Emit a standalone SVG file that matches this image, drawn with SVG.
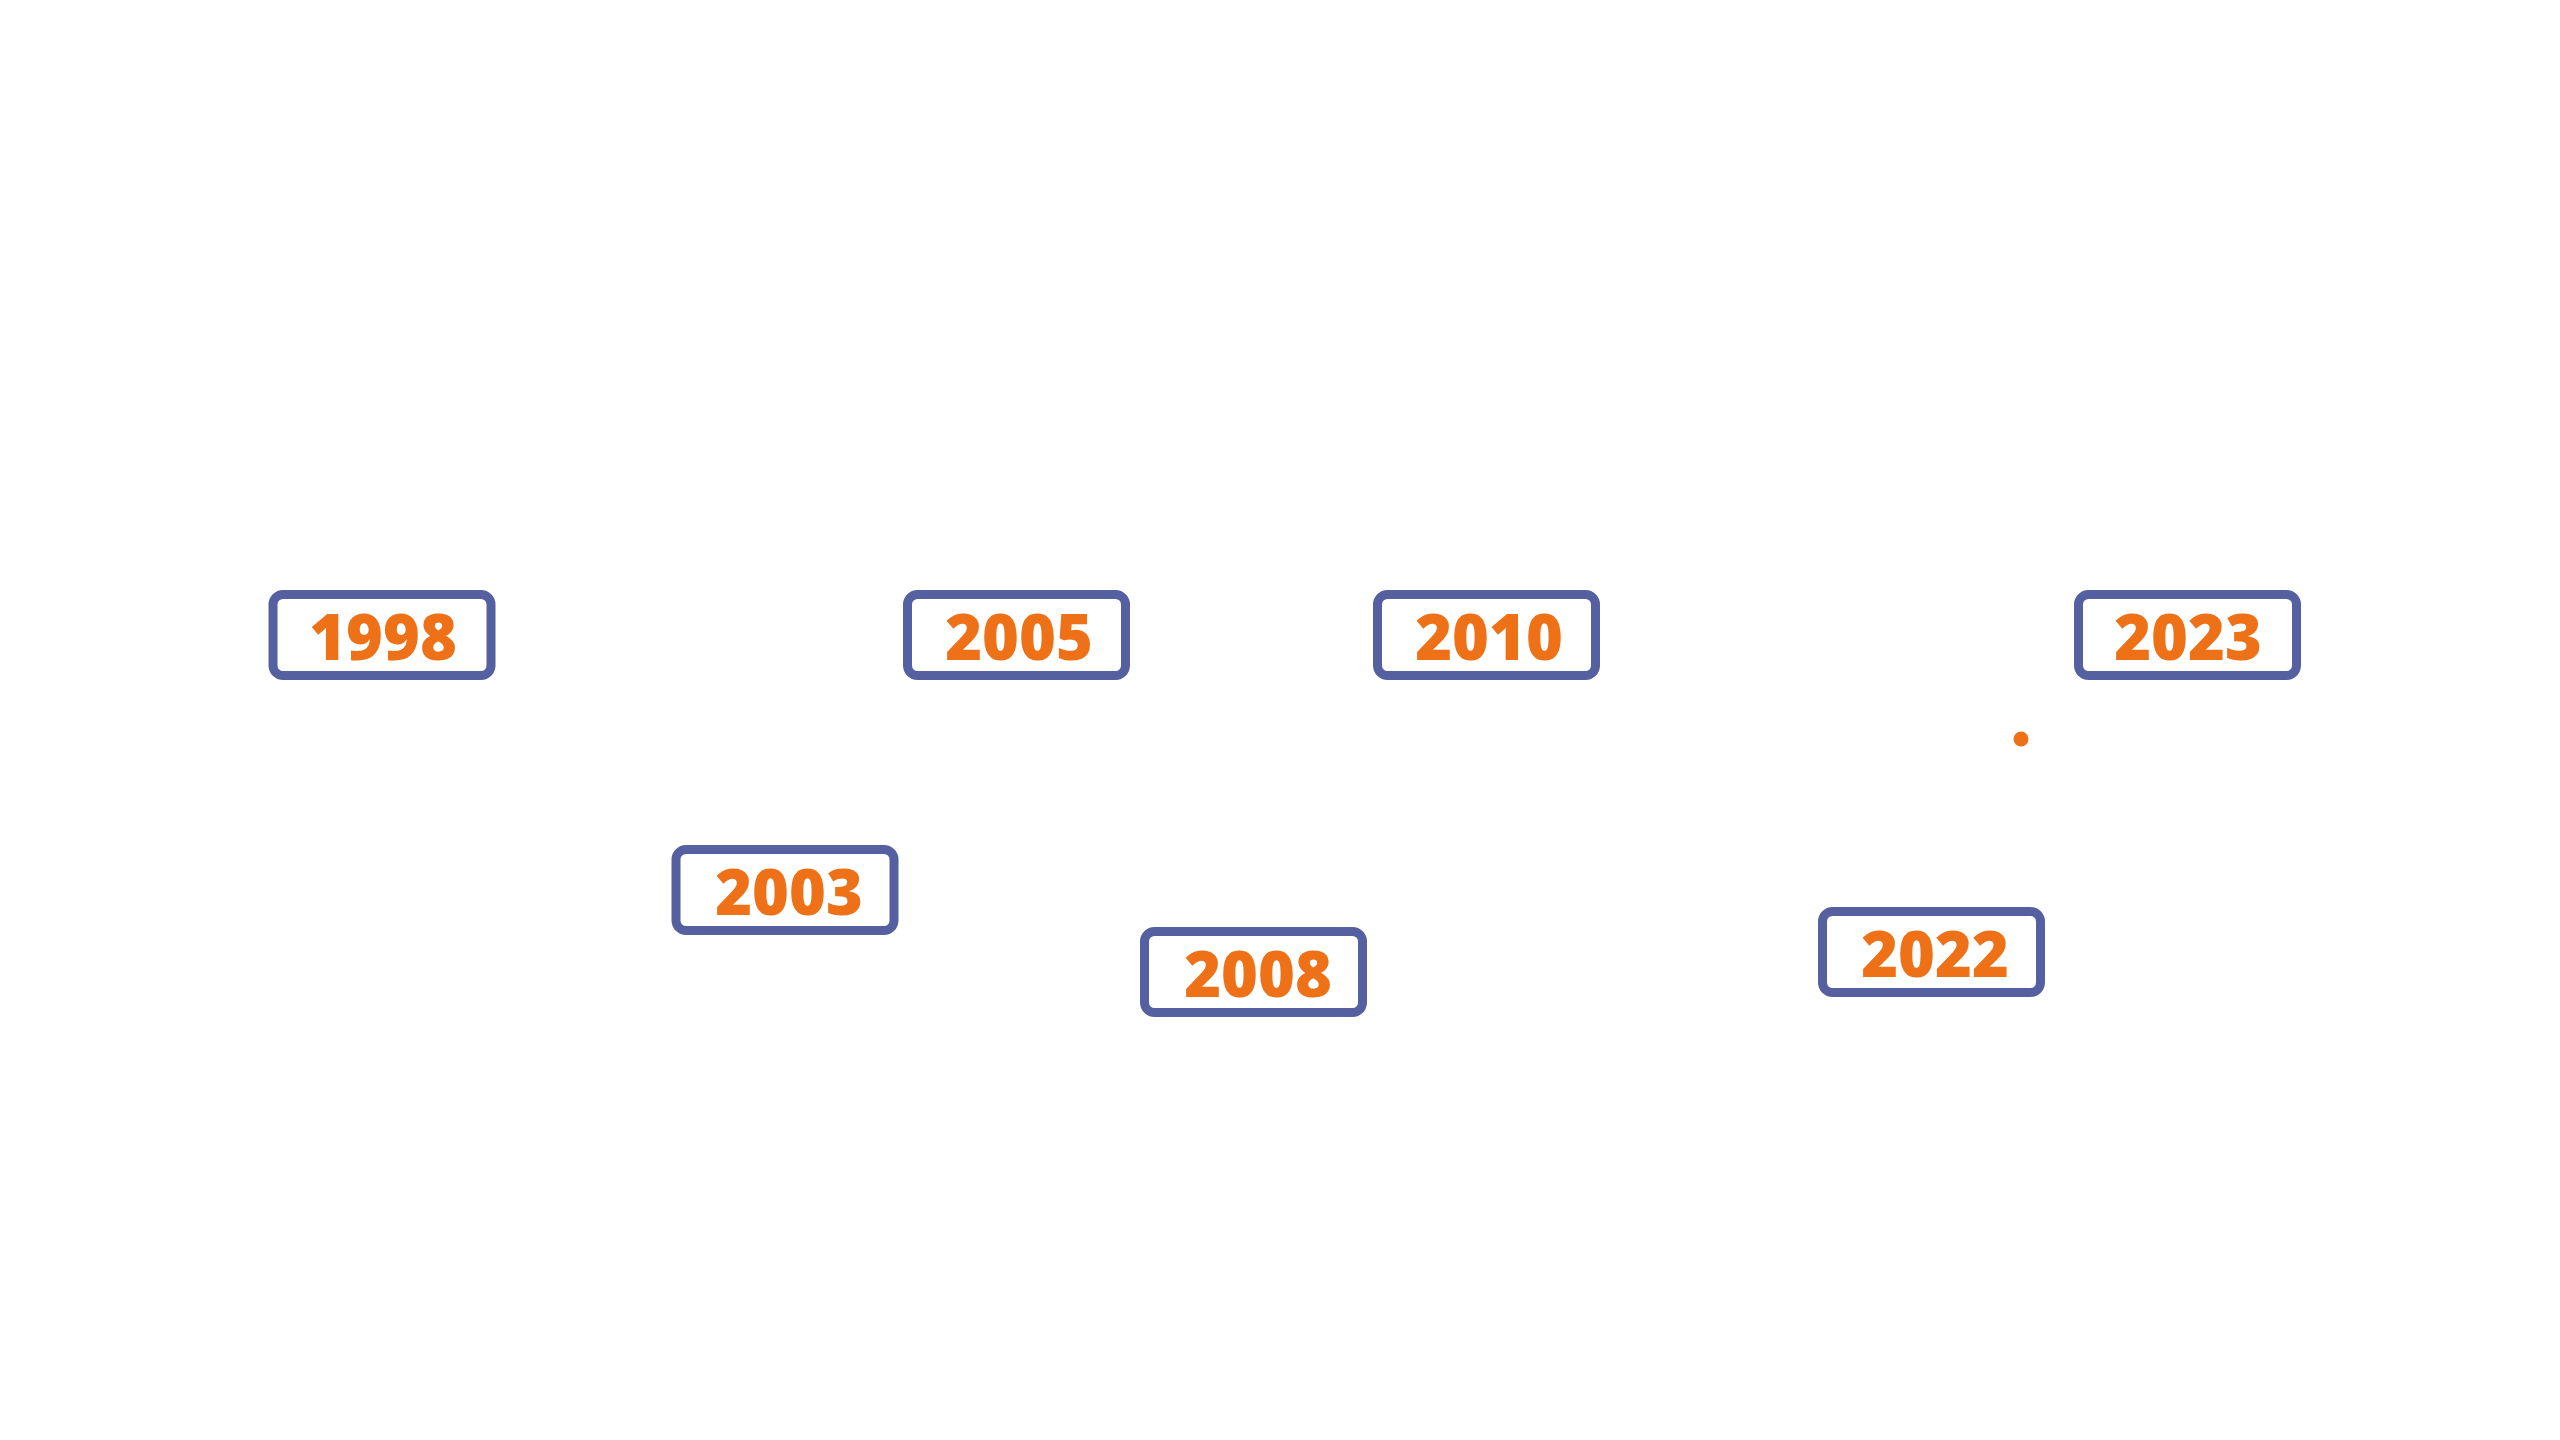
<svg xmlns="http://www.w3.org/2000/svg" width="2560" height="1440" viewBox="0 0 2560 1440">
<style>
.box{fill:#ffffff;stroke:#5560A0;stroke-width:9}
.yr{fill:#EE7017;font-family:"Open Sans","Liberation Sans",Arial,sans-serif;font-weight:800;font-size:63px;text-anchor:middle}
</style>
<rect x="0" y="0" width="2560" height="1440" fill="#ffffff"/>
<g id="connectors"></g>
<g id="n1998"><rect class="box" x="273" y="594.5" width="218" height="81" rx="10"/><text class="yr" x="383" y="660">1998</text></g>
<g id="n2003"><rect class="box" x="676" y="849.5" width="218" height="81" rx="10"/><text class="yr" x="789" y="915">2003</text></g>
<g id="n2005"><rect class="box" x="907.5" y="594.5" width="218" height="81" rx="10"/><text class="yr" x="1019" y="660">2005</text></g>
<g id="n2008"><rect class="box" x="1144.5" y="931.5" width="218" height="81" rx="10"/><text class="yr" x="1258" y="997">2008</text></g>
<g id="n2010"><rect class="box" x="1377.5" y="594.5" width="218" height="81" rx="10"/><text class="yr" x="1489" y="660">2010</text></g>
<g id="n2022"><rect class="box" x="1822.5" y="911.5" width="218" height="81" rx="10"/><text class="yr" x="1935" y="977">2022</text></g>
<g id="n2023"><rect class="box" x="2078.5" y="594.5" width="218" height="81" rx="10"/><text class="yr" x="2188" y="660">2023</text></g>
<g id="dot"><circle cx="2021" cy="739" r="7.5" fill="#EE7017"/></g>
</svg>
